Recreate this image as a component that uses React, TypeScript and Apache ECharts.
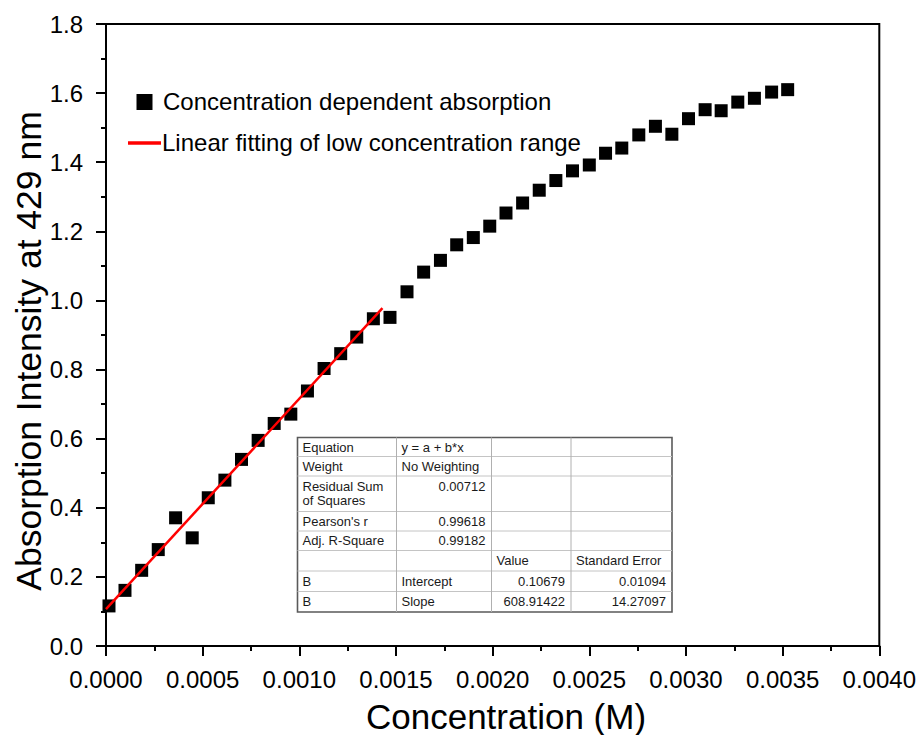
import React, { useEffect, useRef } from "react";
import * as echarts from "echarts";

// Measured absorbance at 429 nm versus concentration (M)
const concentration = [
  0.0000155, 0.0000982, 0.0001845, 0.0002703, 0.00036, 0.000446, 0.000529,
  0.000615, 0.000701, 0.000787, 0.00087, 0.000956, 0.001042, 0.001128,
  0.001214, 0.001297, 0.001383, 0.001469, 0.001557, 0.001643, 0.00173,
  0.001814, 0.0019, 0.001985, 0.002069, 0.002155, 0.002241, 0.002327,
  0.002413, 0.0025, 0.002584, 0.002668, 0.002756, 0.002842, 0.002927,
  0.003013, 0.003099, 0.003182, 0.003268, 0.003354, 0.003443, 0.003526,
];
const absorption = [
  0.116, 0.161, 0.219, 0.279, 0.371, 0.313, 0.429, 0.48, 0.54, 0.595, 0.644,
  0.671, 0.738, 0.803, 0.846, 0.894, 0.947, 0.951, 1.025, 1.082, 1.116,
  1.161, 1.182, 1.215, 1.253, 1.282, 1.319, 1.347, 1.375, 1.392, 1.426,
  1.441, 1.479, 1.504, 1.481, 1.526, 1.552, 1.549, 1.574, 1.585, 1.603,
  1.61,
];

// Linear fit of the low-concentration range
const fitIntercept = 0.10679;
const fitSlope = 608.91422;
const fitStart = 0;
const fitEnd = 0.00143;

const fitTableRows = [
  ["Equation", "y = a + b*x", "", ""],
  ["Weight", "No Weighting", "", ""],
  ["Residual Sum\nof Squares", "0.00712", "", ""],
  ["Pearson's r", "0.99618", "", ""],
  ["Adj. R-Square", "0.99182", "", ""],
  ["", "", "Value", "Standard Error"],
  ["B", "Intercept", String(fitIntercept), "0.01094"],
  ["B", "Slope", String(fitSlope), "14.27097"],
];

const legendLabels = [
  "Concentration dependent absorption",
  "Linear fitting of low concentration range",
];

const xTitle = "Concentration (M)";
const yTitle = "Absorption Intensity at 429 nm";

const FONT = 'Arial, "Liberation Sans", Helvetica, sans-serif';

// table layout (px)
const rowEdges = [437.5, 456.5, 476, 511.5, 531, 550.5, 571, 591.5, 612];
const colEdges = [297.5, 396.5, 491.5, 571, 672];

function buildTable(): any[] {
  const els: any[] = [];
  const left = colEdges[0];
  const right = colEdges[colEdges.length - 1];
  const top = rowEdges[0];
  const bottom = rowEdges[rowEdges.length - 1];
  els.push({
    type: "rect",
    shape: { x: left, y: top, width: right - left, height: bottom - top },
    style: { fill: "#ffffff", stroke: "#5a5a5a", lineWidth: 1.6 },
    z: 10,
  });
  for (let i = 1; i < rowEdges.length - 1; i++) {
    els.push({
      type: "line",
      shape: { x1: left, y1: rowEdges[i], x2: right, y2: rowEdges[i] },
      style: { stroke: "#c4c4c4", lineWidth: 1 },
      z: 11,
    });
  }
  for (let j = 1; j < colEdges.length - 1; j++) {
    els.push({
      type: "line",
      shape: { x1: colEdges[j], y1: top, x2: colEdges[j], y2: bottom },
      style: { stroke: "#b0b0b0", lineWidth: 1 },
      z: 11,
    });
  }
  const numeric = /^-?\d+(\.\d+)?$/;
  fitTableRows.forEach((row, r) => {
    const y0 = rowEdges[r];
    const y1 = rowEdges[r + 1];
    const multi = row.some((c) => c.includes("\n")) || y1 - y0 > 25;
    row.forEach((cell, c) => {
      if (!cell) return;
      const isNum = numeric.test(cell);
      const x = isNum ? colEdges[c + 1] - 6 : colEdges[c] + 5;
      const y = multi ? y0 + 3 : (y0 + y1) / 2;
      els.push({
        type: "text",
        x,
        y,
        z: 12,
        style: {
          text: cell,
          fontSize: 13,
          fontFamily: FONT,
          fill: "#1a1a1a",
          lineHeight: 14,
          align: isNum ? "right" : "left",
          textAlign: isNum ? "right" : "left",
          verticalAlign: multi ? "top" : "middle",
          textVerticalAlign: multi ? "top" : "middle",
        },
      });
    });
  });
  return els;
}

export default function App() {
  const ref = useRef<HTMLDivElement>(null);

  useEffect(() => {
    document.body.style.margin = "0";
    if (!ref.current) return;
    const chart = echarts.init(ref.current, undefined, { renderer: "svg" });

    const points = concentration.map((c, i) => [c, absorption[i]]);
    const fitLine = [
      [fitStart, fitIntercept + fitSlope * fitStart],
      [fitEnd, fitIntercept + fitSlope * fitEnd],
    ];

    const axisCommon = {
      type: "value",
      axisLine: { show: true, lineStyle: { color: "#000", width: 2 } },
      axisTick: { show: true, length: 10, lineStyle: { color: "#000", width: 2 } },
      minorTick: { show: true, splitNumber: 2, length: 5, lineStyle: { color: "#000", width: 2 } },
      splitLine: { show: false },
      minorSplitLine: { show: false },
    };

    chart.setOption({
      animation: false,
      backgroundColor: "#ffffff",
      grid: {
        left: 106,
        top: 24,
        width: 775,
        height: 622,
        show: true,
        borderColor: "#000",
        borderWidth: 2,
        backgroundColor: "transparent",
      },
      xAxis: {
        ...axisCommon,
        min: 0,
        max: 0.004,
        interval: 0.0005,
        axisLabel: {
          formatter: (v: number) => v.toFixed(4),
          fontSize: 24,
          fontFamily: FONT,
          color: "#000",
          margin: 21,
        },
      },
      yAxis: {
        ...axisCommon,
        min: 0,
        max: 1.8,
        interval: 0.2,
        axisLabel: {
          formatter: (v: number) => v.toFixed(1),
          fontSize: 24,
          fontFamily: FONT,
          color: "#000",
          margin: 23,
        },
      },
      series: [
        {
          name: legendLabels[0],
          type: "scatter",
          data: points,
          symbol: "rect",
          symbolSize: 13,
          itemStyle: { color: "#000", opacity: 1 },
          z: 2,
        },
        {
          name: legendLabels[1],
          type: "line",
          data: fitLine,
          showSymbol: false,
          symbol: "none",
          lineStyle: { color: "#ff0000", width: 2.5 },
          z: 3,
        },
      ],
      graphic: [
        // legend
        {
          type: "rect",
          shape: { x: 136.5, y: 94, width: 16, height: 16 },
          style: { fill: "#000" },
        },
        {
          type: "text",
          x: 163,
          y: 101,
          style: {
            text: legendLabels[0],
            fontSize: 24,
            fontFamily: FONT,
            fill: "#000",
            align: "left",
            textAlign: "left",
            verticalAlign: "middle",
            textVerticalAlign: "middle",
          },
        },
        {
          type: "line",
          shape: { x1: 128, y1: 143, x2: 161, y2: 143 },
          style: { stroke: "#ff0000", lineWidth: 3.5 },
        },
        {
          type: "text",
          x: 162,
          y: 142,
          style: {
            text: legendLabels[1],
            fontSize: 24,
            fontFamily: FONT,
            fill: "#000",
            align: "left",
            textAlign: "left",
            verticalAlign: "middle",
            textVerticalAlign: "middle",
          },
        },
        // axis titles
        {
          type: "text",
          x: 29,
          y: 351,
          rotation: Math.PI / 2,
          style: {
            text: yTitle,
            fontSize: 35.5,
            fontFamily: FONT,
            fill: "#000",
            align: "center",
            textAlign: "center",
            verticalAlign: "middle",
            textVerticalAlign: "middle",
          },
        },
        {
          type: "text",
          x: 506,
          y: 716,
          style: {
            text: xTitle,
            fontSize: 35,
            fontFamily: FONT,
            fill: "#000",
            align: "center",
            textAlign: "center",
            verticalAlign: "middle",
            textVerticalAlign: "middle",
          },
        },
        ...buildTable(),
      ],
    });

    return () => chart.dispose();
  }, []);

  return <div ref={ref} style={{ width: 919, height: 735 }} />;
}
